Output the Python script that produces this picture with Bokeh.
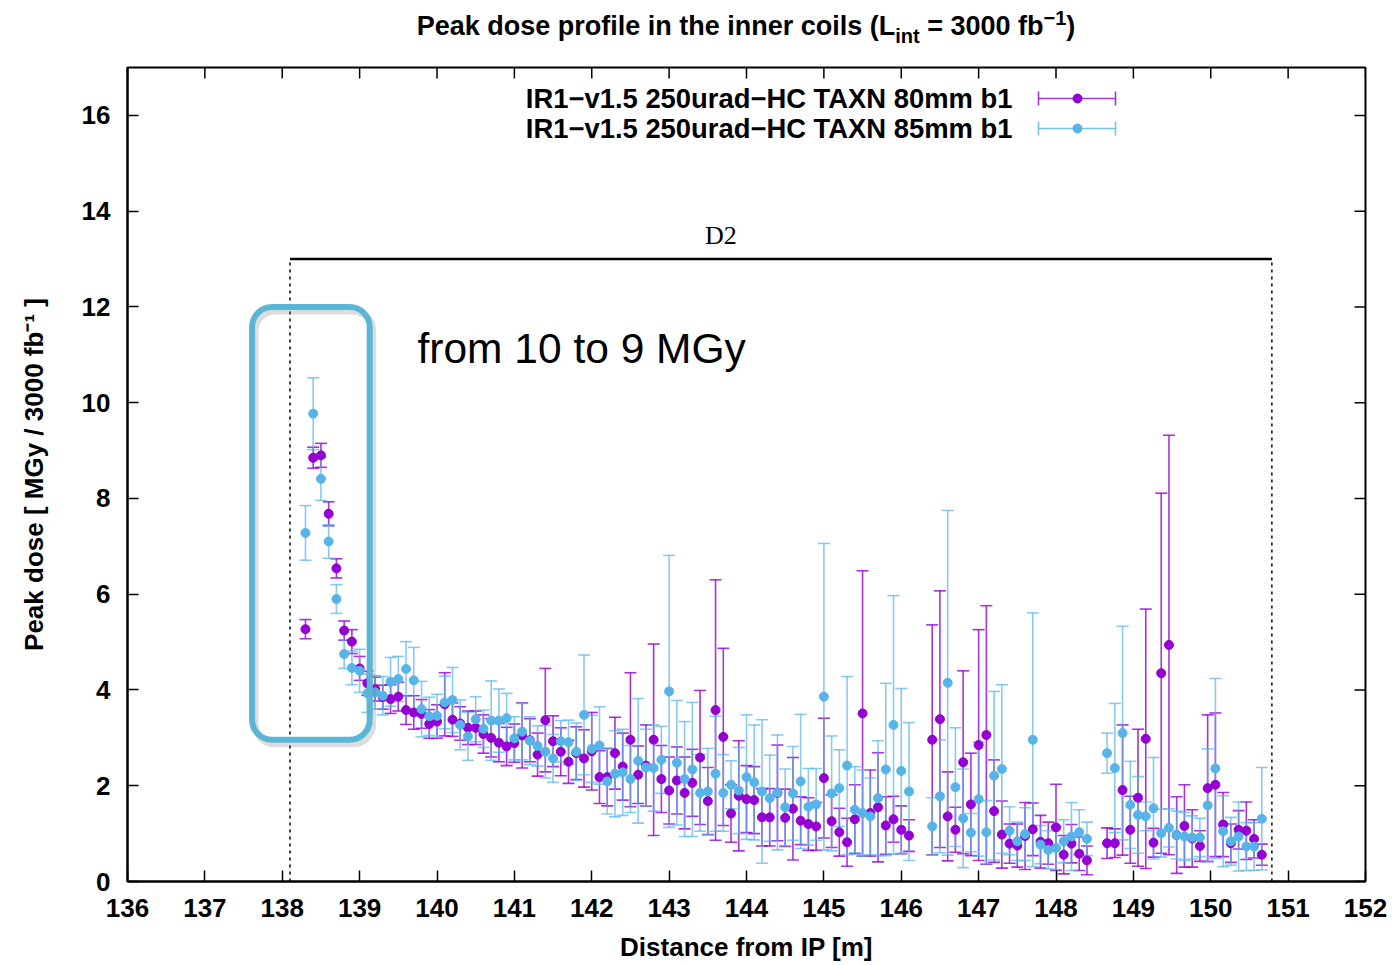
from bokeh.plotting import figure
from bokeh.models import (Range1d, FixedTicker, Whisker, TeeHead, Div,
                          ColumnDataSource, Label, BoxAnnotation)
from bokeh.layouts import column
from bokeh.embed import file_html
from bokeh.resources import INLINE

# ---------------- data ----------------
x_pos = [138.3, 138.4, 138.5, 138.6, 138.7, 138.8, 138.9, 139.0, 139.1, 139.2,
         139.3, 139.4, 139.5, 139.6, 139.7, 139.8, 139.9, 140.0, 140.1, 140.2,
         140.3, 140.4, 140.5, 140.6, 140.7, 140.8, 140.9, 141.0, 141.1, 141.2,
         141.3, 141.4, 141.5, 141.6, 141.7, 141.8, 141.9, 142.0, 142.1, 142.2,
         142.3, 142.4, 142.5, 142.6, 142.7, 142.8, 142.9, 143.0, 143.1, 143.2,
         143.3, 143.4, 143.5, 143.6, 143.7, 143.8, 143.9, 144.0, 144.1, 144.2,
         144.3, 144.4, 144.5, 144.6, 144.7, 144.8, 144.9, 145.0, 145.1, 145.2,
         145.3, 145.4, 145.5, 145.6, 145.7, 145.8, 145.9, 146.0, 146.1,
         146.4, 146.5, 146.6, 146.7, 146.8, 146.9, 147.0, 147.1, 147.2, 147.3,
         147.4, 147.5, 147.6, 147.7, 147.8, 147.9, 148.0, 148.1, 148.2, 148.3, 148.4,
         148.66, 148.76, 148.86, 148.96, 149.06, 149.16, 149.26, 149.36, 149.46, 149.56,
         149.66, 149.76, 149.86, 149.96, 150.06, 150.16, 150.26, 150.36, 150.46, 150.56, 150.66]

dose_80mm = [5.27, 8.85, 8.90, 7.68, 6.54, 5.24, 5.01, 4.45, 4.14, 4.02,
             3.85, 3.81, 3.86, 3.58, 3.53, 3.50, 3.29, 3.34, 3.70, 3.38,
             3.30, 3.21, 3.21, 3.08, 3.00, 2.90, 2.82, 2.89, 3.05, 2.95,
             2.65, 3.37, 2.93, 2.71, 2.50, 2.68, 2.57, 2.72, 2.18, 2.18,
             2.68, 2.40, 2.96, 2.23, 2.42, 2.96, 2.14, 1.90, 2.11, 1.85,
             2.06, 2.59, 1.68, 3.58, 3.02, 1.42, 1.79, 1.72, 1.70, 1.34,
             1.34, 1.85, 1.33, 1.52, 1.27, 1.20, 1.15, 2.16, 1.26, 1.03,
             0.82, 1.30, 3.51, 1.43, 1.55, 1.17, 1.30, 1.08, 0.96,
             2.96, 3.39, 1.36, 1.08, 2.49, 1.61, 2.85, 3.06, 1.47, 0.98,
             0.79, 0.75, 0.95, 1.09, 0.83, 0.80, 1.13, 0.56, 0.79, 0.58, 0.44,
             0.80, 0.80, 1.91, 1.08, 1.75, 2.98, 0.81, 4.35, 4.94, 0.97,
             1.16, 0.90, 0.74, 1.95, 2.02, 1.19, 0.80, 1.08, 1.06, 0.89, 0.56]

err_80mm = [0.20, 0.22, 0.25, 0.25, 0.20, 0.20, 0.25, 0.25, 0.25, 0.25,
            0.25, 0.30, 0.30, 0.30, 0.35, 0.30, 0.30, 0.35, 0.66, 0.35,
            0.35, 0.35, 0.35, 0.40, 0.40, 0.40, 0.40, 0.40, 0.68, 0.45,
            0.45, 1.08, 0.53, 0.50, 0.45, 0.55, 0.60, 0.81, 0.55, 0.60,
            0.75, 0.70, 1.40, 0.60, 0.85, 2.00, 0.70, 0.70, 0.70, 0.75,
            0.70, 1.40, 0.70, 2.72, 1.85, 0.60, 1.15, 0.70, 0.70, 0.60,
            0.60, 1.00, 0.60, 1.07, 0.50, 0.55, 0.50, 1.25, 0.55, 0.50,
            0.50, 0.72, 2.98, 0.90, 1.14, 0.60, 0.48, 0.50, 0.33,
            2.40, 2.68, 0.93, 0.47, 1.91, 1.07, 2.41, 2.70, 1.07, 0.70,
            0.41, 0.45, 0.70, 0.55, 0.55, 0.44, 0.90, 0.40, 0.40, 0.35, 0.30,
            0.32, 0.30, 1.36, 0.70, 1.43, 2.71, 0.30, 3.76, 4.38, 0.80,
            0.86, 0.60, 0.32, 1.53, 1.50, 0.67, 0.40, 0.40, 0.60, 0.40, 0.22]

dose_85mm = [7.28, 9.77, 8.41, 7.10, 5.90, 4.75, 4.46, 4.40, 3.93, 3.95,
             3.88, 4.17, 4.23, 4.44, 4.20, 3.60, 3.45, 3.46, 3.74, 3.79,
             3.27, 3.03, 3.39, 3.19, 3.36, 3.36, 3.41, 2.99, 3.13, 2.94,
             2.83, 2.71, 2.57, 2.93, 2.91, 2.71, 3.48, 2.77, 2.84, 2.09,
             2.25, 2.28, 2.14, 2.52, 2.38, 2.37, 2.54, 3.97, 2.48, 2.14,
             2.34, 1.85, 1.88, 2.25, 1.85, 2.02, 1.90, 2.18, 2.07, 1.88,
             1.74, 1.86, 1.55, 1.84, 2.09, 1.56, 1.61, 3.86, 1.84, 1.95,
             2.42, 1.50, 1.43, 1.36, 1.74, 2.34, 3.27, 2.31, 1.88,
             1.15, 1.78, 4.15, 1.97, 1.32, 1.02, 1.72, 1.03, 2.21, 2.35,
             1.06, 0.84, 0.99, 2.96, 0.77, 0.66, 0.70, 0.84, 0.94, 1.03, 0.89,
             2.68, 2.37, 3.10, 1.60, 1.39, 1.36, 1.53, 1.01, 1.12, 0.97,
             0.94, 0.92, 0.92, 1.59, 2.36, 1.05, 0.84, 0.94, 0.73, 0.73, 1.31]

err_85mm = [0.57, 0.75, 0.45, 0.35, 0.30, 0.30, 0.35, 0.45, 0.40, 0.35,
            0.40, 0.51, 0.47, 0.57, 0.69, 0.58, 0.40, 0.45, 0.55, 0.68,
            0.52, 0.50, 0.47, 0.39, 0.83, 0.66, 0.52, 0.45, 0.59, 0.50,
            0.42, 0.55, 0.50, 0.43, 0.46, 0.60, 1.25, 0.70, 0.81, 0.68,
            0.90, 0.90, 0.70, 1.30, 0.80, 0.90, 0.70, 2.84, 1.30, 1.20,
            1.40, 0.80, 0.90, 1.20, 0.80, 0.50, 0.90, 1.30, 1.20, 1.50,
            0.90, 1.20, 0.80, 0.98, 1.40, 0.80, 0.75, 3.20, 1.20, 0.80,
            1.86, 0.90, 0.90, 0.80, 1.20, 1.80, 2.70, 1.72, 1.44,
            0.60, 1.18, 3.60, 1.24, 1.03, 0.40, 1.19, 0.66, 1.76, 1.76,
            0.50, 0.40, 0.55, 2.65, 0.40, 0.40, 0.45, 0.45, 0.71, 0.47, 0.35,
            0.42, 1.35, 2.23, 0.91, 0.80, 0.30, 1.06, 0.50, 0.40, 0.50,
            0.50, 0.45, 0.40, 1.18, 1.88, 0.74, 0.50, 0.72, 0.50, 0.50, 1.07]

series_labels = ["IR1\u2212v1.5 250urad\u2212HC TAXN 80mm b1",
                 "IR1\u2212v1.5 250urad\u2212HC TAXN 85mm b1"]
x_ticks = [136, 137, 138, 139, 140, 141, 142, 143, 144, 145, 146, 147, 148, 149, 150, 151, 152]
y_ticks = [0, 2, 4, 6, 8, 10, 12, 14, 16]
X_MIN, X_MAX, Y_MIN, Y_MAX = 136, 152, 0, 17

# magnet (D2) extent and highlight box, in data units
d2_start, d2_end, d2_level = 138.10, 150.79, 13.0
box_left, box_right, box_bottom, box_top = 137.61, 139.13, 2.96, 12.0

PURPLE = "#9400d3"
BLUE = "#56b4e9"
FONT = "Liberation Sans"

# ---------------- figure ----------------
TITLE_H = 65
FL, FT, FR, FB = 127, 67, 1365, 881       # frame edges in page pixels
PX_X = (FR - FL) / (X_MAX - X_MIN)          # pixels per metre
PX_Y = (FB - FT) / (Y_MAX - Y_MIN)          # pixels per MGy

p = figure(width=1395, height=965 - TITLE_H, title=None,
           x_range=Range1d(X_MIN, X_MAX), y_range=Range1d(Y_MIN, Y_MAX),
           output_backend="svg", toolbar_location=None,
           min_border_left=FL, min_border_right=1395 - FR,
           min_border_top=FT - TITLE_H, min_border_bottom=965 - FB)
p.xgrid.visible = False
p.ygrid.visible = False
p.outline_line_color = "black"
p.outline_line_width = 2
p.background_fill_color = "white"
p.border_fill_color = "white"

for ax in (p.xaxis[0], p.yaxis[0]):
    ax.axis_line_width = 2
    ax.axis_line_color = "black"
    ax.major_tick_in = 11
    ax.major_tick_out = 0
    ax.major_tick_line_width = 1.5
    ax.minor_tick_in = 0
    ax.minor_tick_out = 0
    ax.major_label_text_font = FONT
    ax.major_label_text_font_style = "bold"
    ax.major_label_text_color = "black"
    ax.major_label_text_font_size = "26px"
    ax.axis_label_text_font = FONT
    ax.axis_label_text_font_style = "bold"
    ax.axis_label_text_font_size = "26px"
    ax.axis_label_text_color = "black"

p.xaxis.ticker = FixedTicker(ticks=x_ticks)
p.yaxis.ticker = FixedTicker(ticks=y_ticks)
p.xaxis.axis_label = "Distance from IP [m]"
p.yaxis.axis_label = "Peak dose [ MGy / 3000 fb\u207b\u00b9 ]"
p.xaxis.major_label_standoff = 17
p.yaxis.major_label_standoff = 17
p.xaxis.axis_label_standoff = 12
p.yaxis.axis_label_standoff = 30

# mirrored inward ticks on the top and right frame edges (gnuplot style)
tick_len_y = 11 / PX_Y
tick_len_x = 11 / PX_X
p.segment(x0=x_ticks, y0=[Y_MAX] * len(x_ticks), x1=x_ticks,
          y1=[Y_MAX - tick_len_y] * len(x_ticks), line_color="black", line_width=1.5)
p.segment(x0=[X_MAX] * len(y_ticks), y0=y_ticks, x1=[X_MAX - tick_len_x] * len(y_ticks),
          y1=y_ticks, line_color="black", line_width=1.5)

# ---------------- D2 marker ----------------
p.segment(x0=[d2_start, d2_end], y0=[0, 0], x1=[d2_start, d2_end], y1=[d2_level, d2_level],
          line_color="black", line_width=1.5, line_dash="3 4")
p.segment(x0=[d2_start], y0=[d2_level], x1=[d2_end], y1=[d2_level],
          line_color="black", line_width=2.5)
p.add_layout(Label(x=143.67, y=d2_level + 0.5, text="D2", text_align="center",
                   text_baseline="middle", text_font="Liberation Serif",
                   text_font_size="26px", text_color="black"))

# ---------------- series ----------------
def draw_series(y, e, color, bar_alpha):
    lower = [a - b for a, b in zip(y, e)]
    upper = [a + b for a, b in zip(y, e)]
    src = ColumnDataSource(dict(x=x_pos, y=y, lower=lower, upper=upper))
    w = Whisker(source=src, base="x", lower="lower", upper="upper",
                line_color=color, line_width=1.6, line_alpha=bar_alpha,
                upper_head=TeeHead(size=12, line_color=color, line_width=1.6, line_alpha=bar_alpha),
                lower_head=TeeHead(size=12, line_color=color, line_width=1.6, line_alpha=bar_alpha))
    p.add_layout(w)
    p.scatter("x", "y", source=src, size=9, color=color, line_color=color)


draw_series(dose_80mm, err_80mm, PURPLE, 0.8)
draw_series(dose_85mm, err_85mm, BLUE, 0.7)

# ---------------- highlight box + note ----------------
p.add_layout(BoxAnnotation(left=box_left + 3 / PX_X, right=box_right + 3 / PX_X,
                           bottom=box_bottom - 4 / PX_Y, top=box_top - 4 / PX_Y,
                           fill_alpha=0, line_color="#777777", line_alpha=0.25,
                           line_width=7, border_radius=20))
p.add_layout(BoxAnnotation(left=box_left, right=box_right, bottom=box_bottom, top=box_top,
                           fill_alpha=0, line_color="#5bb6d6", line_alpha=1.0, line_width=6,
                           border_radius=20))
p.add_layout(Label(x=417 - FL, y=FB - 348, x_units="screen", y_units="screen",
                   text="from 10 to 9 MGy", text_font=FONT, text_font_size="42.5px",
                   text_baseline="middle", text_color="black"))

# ---------------- legend (text left of the sample, gnuplot style) ----------------
leg_rows_px = [98, 128]
leg_colors = [PURPLE, BLUE]
for row_px, lab, col in zip(leg_rows_px, series_labels, leg_colors):
    p.add_layout(Label(x=1012 - FL, y=FB - row_px, x_units="screen", y_units="screen",
                       text=lab, text_align="right", text_baseline="middle",
                       text_font=FONT, text_font_style="bold", text_font_size="27.4px",
                       text_color="black"))
    yv = (FB - row_px) / PX_Y
    xa = X_MIN + (1038 - FL) / PX_X
    xb = X_MIN + (1115 - FL) / PX_X
    xc = X_MIN + (1077 - FL) / PX_X
    lsrc = ColumnDataSource(dict(y=[yv], lo=[xa], hi=[xb], xc=[xc]))
    p.add_layout(Whisker(source=lsrc, base="y", lower="lo", upper="hi", dimension="width",
                         line_color=col, line_width=1.6, line_alpha=0.8,
                         upper_head=TeeHead(size=14, line_color=col, line_width=1.6, line_alpha=0.8),
                         lower_head=TeeHead(size=14, line_color=col, line_width=1.6, line_alpha=0.8)))
    p.scatter("xc", "y", source=lsrc, size=9, color=col)

# ---------------- title (HTML so that sub/superscripts are real text) ----------------
title_html = (
    '<div style="width:%dpx;margin-left:%dpx;text-align:center;white-space:nowrap;'
    "font-family:'Liberation Sans',Arial,sans-serif;font-weight:bold;font-size:27px;"
    'line-height:31px;padding-top:11px;color:black">'
    'Peak dose profile in the inner coils (L'
    '<span style="font-size:20px;position:relative;top:8px">int</span>'
    ' = 3000 fb'
    '<span style="font-size:20px;position:relative;top:-10px">\u22121</span>)'
    '</div>' % (FR - FL, FL))
title_div = Div(text=title_html, width=1395, height=TITLE_H, margin=0)

layout = column(title_div, p, spacing=0)
open("out.html", "w").write(file_html(layout, INLINE))
